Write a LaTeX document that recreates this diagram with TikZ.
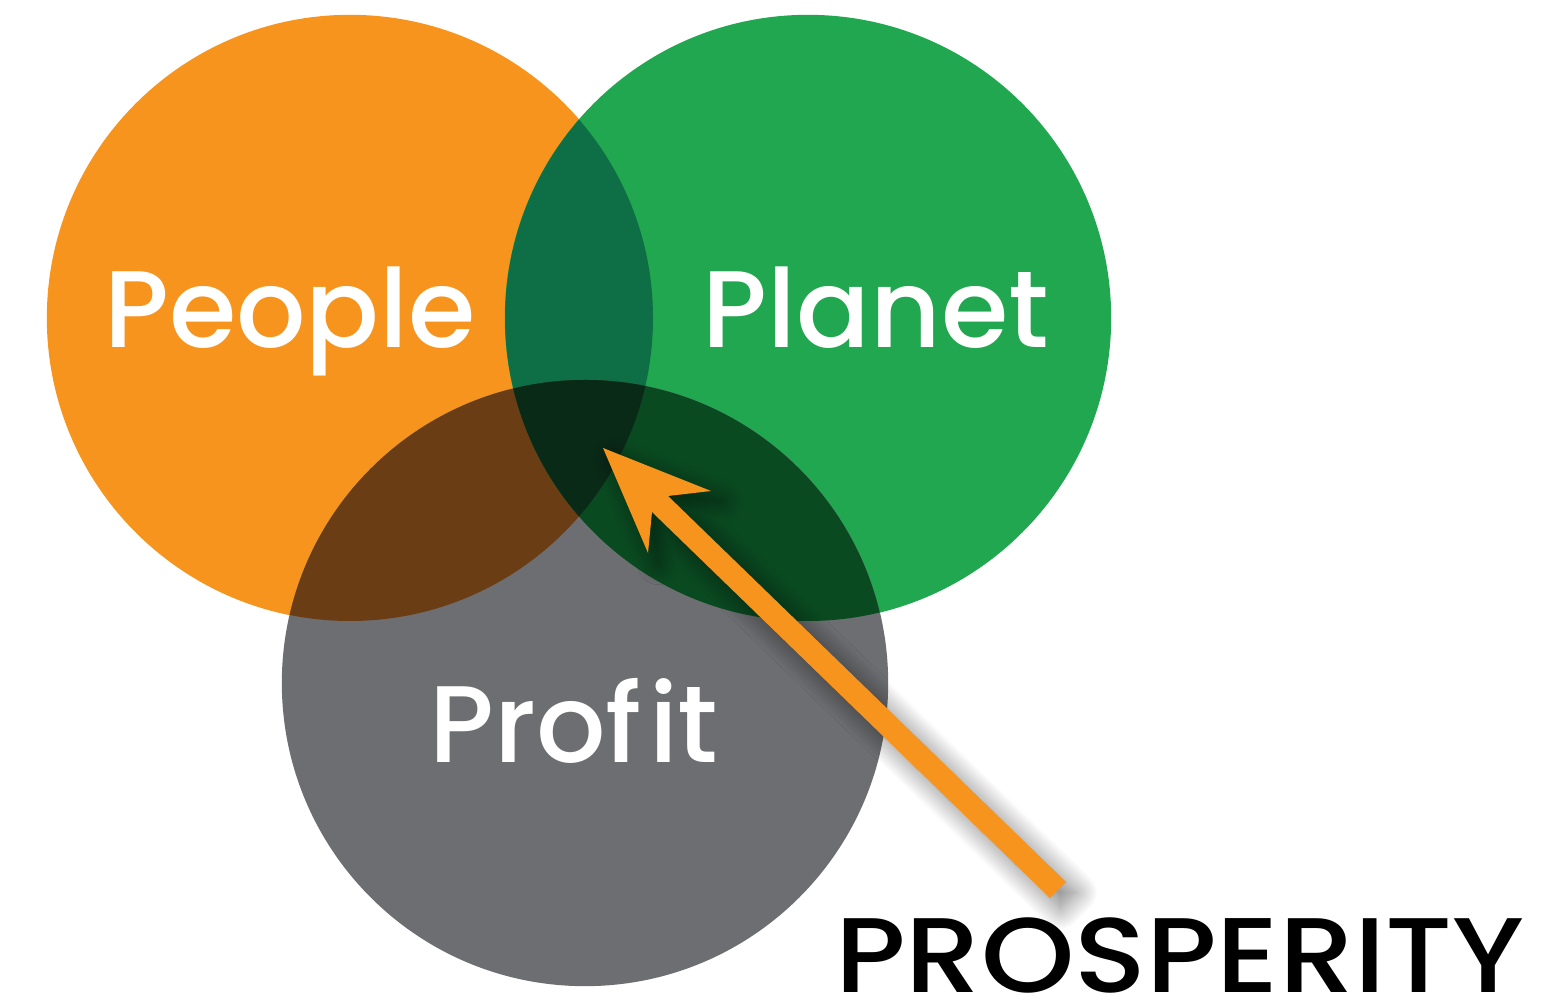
\documentclass[tikz,border=0pt]{standalone}
\usepackage{fontspec}
\setmainfont{Poppins}
\newfontfamily\medfont{Poppins Medium}
\usetikzlibrary{positioning}
\usetikzlibrary{shadows.blur}
\definecolor{peopleor}{HTML}{F7941D}
\definecolor{planetgr}{HTML}{21A750}
\definecolor{profitgy}{HTML}{6D6E71}
\definecolor{peplan}{HTML}{0E6E46}
\definecolor{peprof}{HTML}{6B3D15}
\definecolor{planprof}{HTML}{0A4A21}
\definecolor{allthree}{HTML}{0A2A18}
\tikzset{circ/.style={circle,minimum size=6.06cm,inner sep=0pt}}
\tikzset{lbl/.style={text=white,font=\fontsize{31}{31}\medfont,anchor=base}}
\tikzset{arr/.style={fill=peopleor,blur shadow={shadow xshift=3pt,shadow yshift=-3pt,shadow blur radius=6pt,shadow blur steps=25,shadow opacity=50}}}

\begin{document}
\begin{tikzpicture}[x=0.01cm,y=-0.01cm]
\useasboundingbox (0,0) rectangle (1563,1001);

\node[circ,fill=peopleor] (people) at (350,318) {};
\node[circ,fill=planetgr] (planet) at (808,318) {};
\node[circ,fill=profitgy] (profit) at (585,683) {};

\begin{scope}
\clip (people.center) circle[radius=303];
\fill[peplan] (planet.center) circle[radius=303];
\fill[peprof] (profit.center) circle[radius=303];
\end{scope}
\begin{scope}
\clip (planet.center) circle[radius=303];
\fill[planprof] (profit.center) circle[radius=303];
\clip (people.center) circle[radius=303];
\fill[allthree] (profit.center) circle[radius=303];
\end{scope}

\node[lbl] (peoplet) at (290,348) {People};
\node[lbl] (planett) at (876,348) {Planet};
\node[lbl] (profitt) at (574,763) {Prof\kern2pt it};

\node[anchor=base,inner sep=0pt,text depth=0pt,xscale=1.12,font=\fontsize{30.2}{30.2}\medfont] (pros) at (1180,993) {PROSPERITY};

\coordinate (core) at (603,448);
\coordinate (tail) at (1058,890);
\fill[arr] (core) -- (711,491) -- (668,496) -- (1066,882) -- (1050,898)
  -- (652,512) -- (648,553) -- cycle;
\end{tikzpicture}
\end{document}
